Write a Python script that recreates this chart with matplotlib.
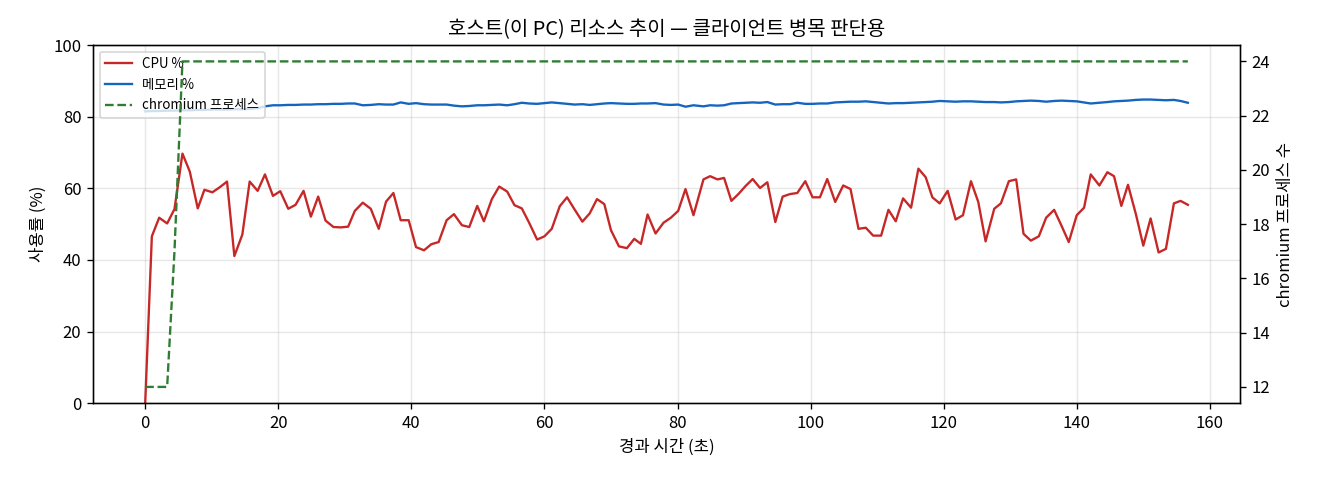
import matplotlib.pyplot as plt

plt.rcParams['font.family'] = ['Noto Sans CJK KR', 'DejaVu Sans']
plt.rcParams['axes.unicode_minus'] = False

# elapsed seconds of each sample
elapsed = [
    0.0, 1.0, 2.1, 3.3, 4.4, 5.6, 6.7, 7.9, 8.9, 10.1,
    11.2, 12.3, 13.4, 14.6, 15.7, 16.9, 18.0, 19.2, 20.3, 21.5,
    22.6, 23.8, 24.9, 26.0, 27.1, 28.3, 29.4, 30.5, 31.5, 32.7,
    33.9, 35.1, 36.2, 37.3, 38.4, 39.6, 40.7, 41.9, 43.0, 44.1,
    45.3, 46.4, 47.6, 48.7, 49.9, 50.9, 52.1, 53.2, 54.4, 55.5,
    56.6, 57.7, 58.9, 60.0, 61.1, 62.3, 63.4, 64.5, 65.7, 66.8,
    67.9, 69.0, 70.0, 71.2, 72.4, 73.5, 74.5, 75.5, 76.7, 77.9,
    79.0, 80.1, 81.2, 82.4, 83.9, 84.9, 86.0, 87.0, 88.1, 89.2,
    90.2, 91.3, 92.4, 93.5, 94.7, 95.8, 96.9, 98.0, 99.2, 100.3,
    101.4, 102.5, 103.7, 104.9, 106.0, 107.2, 108.3, 109.4, 110.6, 111.7,
    112.8, 113.9, 115.1, 116.2, 117.3, 118.3, 119.4, 120.6, 121.8, 122.9,
    124.1, 125.2, 126.3, 127.6, 128.6, 129.8, 130.9, 132.0, 133.1, 134.3,
    135.4, 136.6, 137.7, 138.8, 140.0, 141.1, 142.1, 143.4, 144.6, 145.6,
    146.7, 147.7, 148.9, 150.0, 151.1, 152.3, 153.4, 154.6, 155.6, 156.7,
]

cpu = [
    0.0, 46.6, 51.8, 50.2, 54.2, 69.7, 64.7, 54.4, 59.6, 58.9,
    60.3, 61.9, 41.1, 47.1, 61.9, 59.3, 63.9, 57.9, 59.2, 54.3,
    55.4, 59.3, 52.1, 57.7, 51.0, 49.2, 49.1, 49.3, 53.7, 56.0,
    54.3, 48.7, 56.3, 58.7, 51.1, 51.1, 43.6, 42.7, 44.4, 45.0,
    51.1, 52.8, 49.7, 49.2, 55.1, 50.8, 57.0, 60.5, 59.1, 55.3,
    54.4, 50.4, 45.7, 46.6, 48.7, 55.0, 57.5, 54.2, 50.7, 53.0,
    57.0, 55.6, 48.3, 43.8, 43.3, 45.9, 44.5, 52.7, 47.4, 50.4,
    51.8, 53.7, 59.8, 52.5, 62.5, 63.4, 62.5, 62.9, 56.5, 58.5,
    60.6, 62.6, 60.1, 61.7, 50.6, 57.7, 58.4, 58.7, 62.0, 57.5,
    57.5, 62.6, 56.2, 60.8, 59.8, 48.7, 49.0, 46.8, 46.8, 54.0,
    50.8, 57.2, 54.6, 65.5, 63.1, 57.5, 55.8, 59.3, 51.3, 52.5,
    62.0, 56.2, 45.2, 54.3, 55.8, 62.0, 62.5, 47.3, 45.4, 46.6,
    51.8, 54.0, 49.6, 45.0, 52.5, 54.6, 63.9, 60.8, 64.5, 63.4,
    55.1, 61.0, 52.7, 44.0, 51.6, 42.1, 43.1, 55.8, 56.5, 55.4,
]

memory = [
    81.5, 81.6, 81.6, 81.7, 81.7, 81.8, 81.8, 81.9, 81.9, 82.0,
    82.0, 82.0, 82.1, 82.1, 82.2, 82.4, 82.9, 83.2, 83.2, 83.3,
    83.3, 83.4, 83.4, 83.5, 83.5, 83.6, 83.6, 83.7, 83.7, 83.2,
    83.3, 83.5, 83.4, 83.4, 84.0, 83.6, 83.8, 83.5, 83.4, 83.4,
    83.4, 83.1, 82.9, 83.0, 83.2, 83.2, 83.3, 83.4, 83.2, 83.5,
    83.9, 83.7, 83.6, 83.8, 84.0, 83.8, 83.6, 83.4, 83.5, 83.3,
    83.5, 83.7, 83.8, 83.7, 83.6, 83.6, 83.7, 83.7, 83.8, 83.4,
    83.3, 83.4, 82.8, 83.2, 82.9, 83.2, 83.1, 83.2, 83.7, 83.8,
    83.9, 84.0, 83.9, 84.1, 83.4, 83.5, 83.5, 83.9, 83.6, 83.6,
    83.7, 83.7, 84.0, 84.1, 84.2, 84.2, 84.3, 84.1, 83.9, 83.7,
    83.8, 83.8, 83.9, 84.0, 84.1, 84.2, 84.4, 84.3, 84.2, 84.3,
    84.3, 84.2, 84.1, 84.1, 84.0, 84.1, 84.3, 84.4, 84.5, 84.4,
    84.2, 84.4, 84.5, 84.4, 84.3, 84.0, 83.7, 83.9, 84.1, 84.3,
    84.4, 84.5, 84.7, 84.8, 84.8, 84.7, 84.6, 84.7, 84.4, 83.9,
]

chromium = [
    12, 12, 12, 12, 17, 24, 24, 24, 24, 24, 24, 24, 24, 24, 24, 24, 24, 24, 24, 24,
    24, 24, 24, 24, 24, 24, 24, 24, 24, 24, 24, 24, 24, 24, 24, 24, 24, 24, 24, 24,
    24, 24, 24, 24, 24, 24, 24, 24, 24, 24, 24, 24, 24, 24, 24, 24, 24, 24, 24, 24,
    24, 24, 24, 24, 24, 24, 24, 24, 24, 24, 24, 24, 24, 24, 24, 24, 24, 24, 24, 24,
    24, 24, 24, 24, 24, 24, 24, 24, 24, 24, 24, 24, 24, 24, 24, 24, 24, 24, 24, 24,
    24, 24, 24, 24, 24, 24, 24, 24, 24, 24, 24, 24, 24, 24, 24, 24, 24, 24, 24, 24,
    24, 24, 24, 24, 24, 24, 24, 24, 24, 24, 24, 24, 24, 24, 24, 24, 24, 24, 24, 24,
]

fig, ax = plt.subplots(figsize=(11, 4), dpi=120)
fig.subplots_adjust(left=0.0705, right=0.9394, top=0.906, bottom=0.160)

l1, = ax.plot(elapsed, cpu, color="#c62828", lw=1.4, label="CPU %")
l2, = ax.plot(elapsed, memory, color="#1565c0", lw=1.4, label="메모리 %")
ax.set_ylim(0, 100)
ax.set_xlabel("경과 시간 (초)", fontsize=10)
ax.set_ylabel("사용률 (%)", fontsize=10)
ax.grid(True, alpha=0.3)
ax.tick_params(labelsize=10)

ax2 = ax.twinx()
l3, = ax2.plot(elapsed, chromium, color="#2e7d32", lw=1.4, ls="--",
               label="chromium 프로세스")
ax2.set_ylabel("chromium 프로세스 수", fontsize=10)
ax2.tick_params(labelsize=10)

ax.legend(handles=[l1, l2, l3], loc="upper left", fontsize=8)
ax.set_title("호스트(이 PC) 리소스 추이 — 클라이언트 병목 판단용", fontsize=12)

plt.savefig("out.png", dpi=120)
